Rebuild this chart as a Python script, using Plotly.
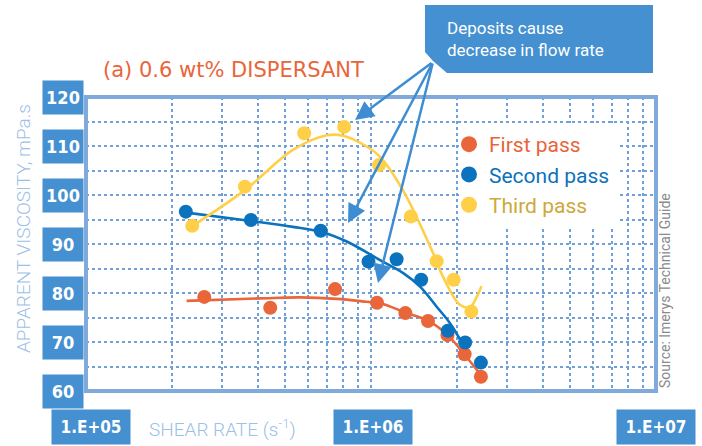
import plotly.graph_objects as go

# ---------------- data ----------------
first_x = [2.6e5, 4.43e5, 7.48e5, 1.05e6, 1.32e6, 1.585e6, 1.855e6, 2.13e6, 2.43e6]
first_y = [79.2, 77.0, 80.8, 78.0, 75.9, 74.3, 71.4, 67.5, 62.9]

second_x = [2.24e5, 3.79e5, 6.66e5, 9.8e5, 1.23e6, 1.50e6, 1.86e6, 2.14e6, 2.43e6]
second_y = [96.6, 94.9, 92.7, 86.4, 86.9, 82.7, 72.3, 69.9, 65.8]

third_x = [2.36e5, 3.61e5, 5.83e5, 8.05e5, 1.067e6, 1.38e6, 1.70e6, 1.95e6, 2.25e6]
third_y = [93.7, 101.7, 112.6, 113.9, 106.1, 95.6, 86.5, 82.7, 76.2]

# trend curves
first_fit_x = [2.254e5, 4.08e5, 5.64e5, 7.59e5, 9.66e5, 1.076e6, 1.324e6, 1.589e6, 1.858e6, 2.138e6, 2.43e6]
first_fit_y = [78.4, 78.9, 79.1, 78.8, 78.2, 77.9, 76.0, 74.3, 71.4, 67.3, 63.3]

second_fit_x = [2.254e5, 3.79e5, 5.32e5, 6.66e5, 8.22e5, 1.076e6, 1.294e6, 1.486e6, 1.70e6, 1.89e6, 2.07e6]
second_fit_y = [96.4, 94.7, 93.5, 92.5, 90.5, 86.7, 84.1, 81.3, 77.2, 73.9, 70.2]

third_fit_x = [2.254e5, 3.61e5, 5.32e5, 7.0e5, 7.98e5, 9.66e5, 1.076e6, 1.294e6, 1.633e6, 1.79e6,
               2.05e6, 2.22e6, 2.35e6, 2.44e6]
third_fit_y = [92.9, 101.0, 109.2, 112.2, 112.1, 109.9, 107.8, 101.0, 88.8, 83.3,
               77.6, 77.1, 79.2, 81.4]

series_names = ["First pass", "Second pass", "Third pass"]
y_tick_values = [60, 70, 80, 90, 100, 110, 120]
x_tick_exponents = [5, 6, 7]
x_tick_labels = ["1.E+05", "1.E+06", "1.E+07"]

# ---------------- style ----------------
ORANGE = "#E9653A"
BLUE = "#0B72BD"
YELLOW = "#FFD047"
YELLOW_TXT = "#CDA83A"
FRAME = "#80AADC"
BOX = "#4490D0"
LIGHT = "#9DC0E6"
GRID = "#6FA0DA"
NUMFONT = "DejaVu Sans Condensed, DejaVu Sans Mono"

fig = go.Figure()

for fx, fy, col in [(first_fit_x, first_fit_y, ORANGE),
                    (second_fit_x, second_fit_y, BLUE),
                    (third_fit_x, third_fit_y, YELLOW)]:
    fig.add_trace(go.Scatter(x=fx, y=fy, mode="lines", line=dict(color=col, width=2.6, shape="spline", smoothing=1.0),
                             showlegend=False, hoverinfo="skip"))

for px, py, col, name, tcol in [(first_x, first_y, ORANGE, series_names[0], ORANGE),
                                (second_x, second_y, BLUE, series_names[1], BLUE),
                                (third_x, third_y, YELLOW, series_names[2], YELLOW_TXT)]:
    fig.add_trace(go.Scatter(x=px, y=py, mode="markers", marker=dict(color=col, size=14),
                             showlegend=False))
    fig.add_trace(go.Scatter(x=[None], y=[None], mode="markers", marker=dict(color=col, size=18),
                             name=f"<span style='color:{tcol}'>{name}</span>"))

W, H = 702, 446
L, R, T, B = 86, 46, 97, 55
PW, PH = W - L - R, H - T - B


def pxx(p):
    return (p - L) / PW


def pxy(p):
    return (H - B - p) / PH


annotations = []
# y tick boxes
for v in y_tick_values:
    annotations.append(dict(x=pxx(63), xref="paper", y=v, yref="y", text=str(v), showarrow=False,
                            xanchor="center", yanchor="middle",
                            width=40, height=33, bgcolor=BOX, borderpad=0,
                            font=dict(family=NUMFONT, size=18, color="white", weight="bold")))
# x tick boxes
for e, lab, sh in zip(x_tick_exponents, x_tick_labels, [5, 2, 0]):
    annotations.append(dict(x=e, xref="x", y=pxy(427), yref="paper", text=lab, showarrow=False,
                            xanchor="center", yanchor="middle",
                            width=78, height=34, bgcolor=BOX, borderpad=0, xshift=sh,
                            font=dict(family=NUMFONT, size=17, color="white", weight="bold")))
# axis titles
annotations.append(dict(x=pxx(23), xref="paper", y=pxy(229), yref="paper", text="APPARENT VISCOSITY, mPa.s",
                        textangle=-90, showarrow=False, xanchor="center", yanchor="middle",
                        font=dict(family="Roboto", size=19, color=LIGHT, weight=300)))
annotations.append(dict(x=pxx(222), xref="paper", y=pxy(428), yref="paper", text="SHEAR RATE (s<sup>-1</sup>)",
                        showarrow=False, xanchor="center", yanchor="middle",
                        font=dict(family="Roboto", size=19, color=LIGHT, weight=300)))
# title
annotations.append(dict(x=pxx(234), xref="paper", y=pxy(70), yref="paper", text="(a) 0.6 wt% DISPERSANT",
                        showarrow=False, xanchor="center", yanchor="middle",
                        font=dict(family="DejaVu Sans", size=21, color=ORANGE)))
# source
annotations.append(dict(x=pxx(665), xref="paper", y=pxy(291), yref="paper", text="Source: Imerys Technical Guide",
                        textangle=-90, showarrow=False, xanchor="center", yanchor="middle",
                        font=dict(family="Roboto", size=14, color="#8A8A8A")))
# callout text
annotations.append(dict(x=pxx(445), xref="paper", y=pxy(39), yref="paper", xanchor="left", yanchor="middle",
                        text="Deposits cause<br>decrease in flow rate", align="left", showarrow=False,
                        font=dict(family="Roboto", size=17, color="white")))
# arrows
tail = (433, 62)
for tip in [(355, 120), (348, 223), (378, 283)]:
    annotations.append(dict(x=pxx(tip[0]), xref="paper", y=pxy(tip[1]), yref="paper", text="",
                            showarrow=True, ax=tail[0] - tip[0], ay=tail[1] - tip[1],
                            arrowhead=2, arrowsize=1.5, arrowwidth=2.5, arrowcolor="#3E8DD2"))

callout_pts = [(425, 5), (653, 5), (653, 73), (447, 73), (433, 61), (425, 52)]
path = "M " + " L ".join(f"{pxx(a):.4f} {pxy(b):.4f}" for a, b in callout_pts) + " Z"

shapes = [
    dict(type="rect", xref="paper", yref="paper", x0=pxx(459), x1=pxx(617), y0=pxy(227), y1=pxy(123),
         fillcolor="white", line=dict(width=0), layer="above"),
    dict(type="rect", xref="paper", yref="paper", x0=0, x1=1, y0=0, y1=1,
         line=dict(color=FRAME, width=4), layer="above"),
    dict(type="path", xref="paper", yref="paper", path=path, fillcolor=BOX, line=dict(width=0), layer="above"),
]

fig.update_layout(
    width=W, height=H,
    margin=dict(l=L, r=R, t=T, b=B),
    paper_bgcolor="white", plot_bgcolor="white",
    xaxis=dict(type="log", range=[5, 7], dtick="D1", showticklabels=False, ticks="",
               showgrid=True, gridcolor=GRID, griddash="dot", gridwidth=1.5, zeroline=False, showline=False),
    yaxis=dict(range=[60, 120], dtick=5, showticklabels=False, ticks="",
               showgrid=True, gridcolor=GRID, griddash="dot", gridwidth=1.5, zeroline=False, showline=False),
    legend=dict(x=pxx(449), y=pxy(124), xanchor="left", yanchor="top", bgcolor="rgba(0,0,0,0)",
                font=dict(family="Roboto", size=21), tracegroupgap=0),
    annotations=annotations,
    shapes=shapes,
    showlegend=True,
)

fig.write_html("out.html", config={"displayModeBar": False},
               post_script="document.body.style.margin='0';document.body.style.overflow='hidden';")
